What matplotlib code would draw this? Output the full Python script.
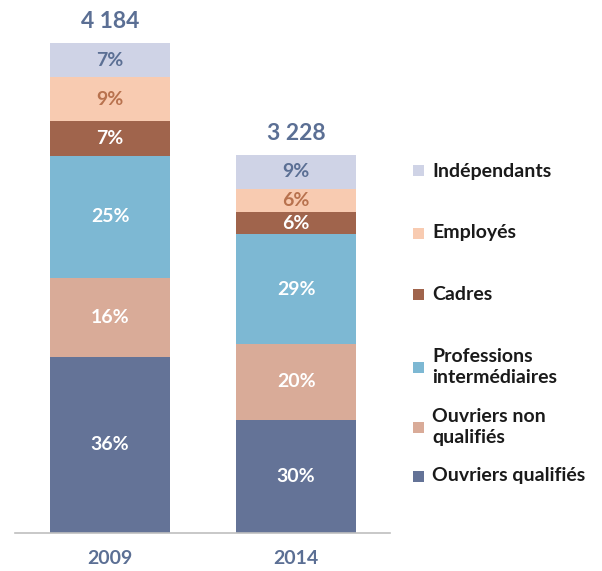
import numpy as np
import matplotlib.pyplot as plt
from matplotlib.patches import Rectangle

plt.rcParams['font.family'] = ['Lato', 'DejaVu Sans']

years = ['2009', '2014']
totals = [4184, 3228]
total_labels = ['4 184', '3 228']
# categories from bottom to top
categories = ['Ouvriers qualifiés', 'Ouvriers non\nqualifiés', 'Professions\nintermédiaires',
              'Cadres', 'Employés', 'Indépendants']
shares = {
    'Ouvriers qualifiés': [36, 30],
    'Ouvriers non\nqualifiés': [16, 20],
    'Professions\nintermédiaires': [25, 29],
    'Cadres': [7, 6],
    'Employés': [9, 6],
    'Indépendants': [7, 9],
}
colors = ['#647397', '#d9ab98', '#7db8d3', '#a0644c', '#f8cbb1', '#cfd3e6']
text_colors = ['white', 'white', 'white', 'white', '#b8724e', '#5b6f94']

W, H = 602, 571
fig = plt.figure(figsize=(W / 100, H / 100), dpi=100)
ax = fig.add_axes([15 / W, (H - 533) / H, 375 / W, 533 / H])

x = np.arange(len(years))
bottom = np.zeros(len(years))
for cat, col, tcol in zip(categories, colors, text_colors):
    pct = np.array(shares[cat], dtype=float)
    vals = pct / 100 * np.array(totals)
    ax.bar(x, vals, 0.645, bottom=bottom, color=col, edgecolor='none')
    for xi, b, v, p in zip(x, bottom, vals, pct):
        ax.text(xi, b + v / 2, f'{int(p)}%', ha='center', va='center',
                color=tcol, fontsize=14, fontweight='bold')
    bottom += vals

for xi, t, lab in zip(x, totals, total_labels):
    ax.text(xi, t + 90, lab, ha='center', va='bottom', color='#5b6f94',
            fontsize=16.5, fontweight='bold')

ax.set_xlim(-0.511, 1.505)
ax.set_ylim(0, 4184 * 533 / 490)
ax.set_xticks(x)
ax.set_xticklabels(years, fontsize=14, fontweight='bold', color='#5b6f94')
ax.tick_params(axis='x', length=0, pad=12)
ax.set_yticks([])
for s in ['top', 'right', 'left']:
    ax.spines[s].set_visible(False)
ax.spines['bottom'].set_color('#bfbfbf')
ax.spines['bottom'].set_linewidth(1.2)

# legend, top to bottom
leg_y = [171, 233, 294, 367, 427, 476]
for cat, col, yy in zip(categories[::-1], colors[::-1], leg_y):
    fig.add_artist(Rectangle((413 / W, 1 - (yy + 5.5) / H), 11 / W, 11 / H,
                             transform=fig.transFigure, color=col, lw=0))
    fig.text(432 / W, 1 - yy / H, cat, ha='left', va='center', fontsize=14,
             fontweight='bold', color='#1a1a1a', linespacing=1.3)

fig.savefig('out.png', dpi=100)
